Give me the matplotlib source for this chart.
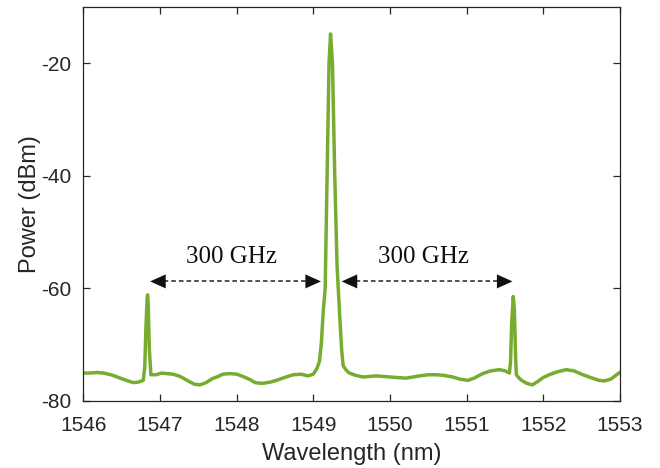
import matplotlib
matplotlib.use('Agg')
from matplotlib import pyplot as plt

plt.rcParams['axes.unicode_minus'] = False

# spectrum (nm, dBm)
wavelength = [1546.00, 1546.08, 1546.18, 1546.26, 1546.36, 1546.48, 1546.58, 1546.65, 1546.72,
              1546.78, 1546.80, 1546.815, 1546.83, 1546.837, 1546.845, 1546.86, 1546.88, 1546.95,
              1547.02, 1547.085, 1547.17, 1547.26, 1547.38, 1547.45, 1547.52, 1547.60, 1547.68,
              1547.74, 1547.82, 1547.91, 1548.00, 1548.08, 1548.18, 1548.24, 1548.30, 1548.36,
              1548.44, 1548.52, 1548.62, 1548.74, 1548.84, 1548.93, 1549.00, 1549.05, 1549.08,
              1549.105, 1549.13, 1549.155, 1549.18, 1549.205, 1549.225, 1549.25, 1549.28,
              1549.31, 1549.345, 1549.37, 1549.39, 1549.43, 1549.47, 1549.55, 1549.65, 1549.74,
              1549.82, 1549.91, 1550.00, 1550.10, 1550.21, 1550.30, 1550.39, 1550.50, 1550.60,
              1550.70, 1550.82, 1550.92, 1551.02, 1551.10, 1551.21, 1551.32, 1551.43, 1551.50,
              1551.56, 1551.575, 1551.59, 1551.61, 1551.625, 1551.64, 1551.65, 1551.68, 1551.71,
              1551.78, 1551.86, 1551.93, 1552.00, 1552.08, 1552.18, 1552.30, 1552.40, 1552.52,
              1552.62, 1552.73, 1552.80, 1552.88, 1552.94, 1553.00]
power = [-75.1, -75.1, -75.0, -75.1, -75.4, -76.0, -76.5, -76.8, -76.7,
         -76.4, -74.0, -67.0, -62.0, -61.2, -63.0, -71.0, -75.4, -75.4,
         -75.1, -75.2, -75.3, -75.7, -76.6, -77.1, -77.2, -76.8, -76.1,
         -75.8, -75.3, -75.2, -75.3, -75.7, -76.3, -76.8, -76.9, -76.9,
         -76.7, -76.4, -75.9, -75.4, -75.3, -75.6, -75.3, -74.2, -73.0,
         -69.8, -64.0, -60.0, -40.0, -20.0, -14.8, -20.0, -40.0,
         -56.0, -65.0, -71.0, -73.8, -74.6, -75.1, -75.5, -75.8, -75.7,
         -75.6, -75.7, -75.8, -75.9, -76.0, -75.8, -75.6, -75.4, -75.4,
         -75.5, -75.8, -76.2, -76.4, -76.0, -75.2, -74.7, -74.5, -74.7,
         -75.1, -73.0, -66.0, -61.5, -64.0, -72.0, -75.4, -75.9, -76.3,
         -76.9, -77.2, -76.6, -75.9, -75.4, -74.9, -74.5, -74.7, -75.4,
         -75.9, -76.4, -76.5, -76.2, -75.6, -75.0]

ytick_values = [-80, -60, -40, -20]
spacing_label = '300 GHz'
left_arrow = (1546.87, 1549.10)
right_arrow = (1549.37, 1551.60)
arrow_level = -58.8

ink = '#262626'
green = '#77AC30'

fig = plt.figure(figsize=(6.6, 4.68), dpi=100)
ax = fig.add_axes([0.1265, 0.144, 0.8125, 0.841])

ax.plot(wavelength, power, color=green, lw=2.5, solid_joinstyle='round')

ax.set_xlim(1546, 1553)
ax.set_ylim(-80, -10)
ax.set_xticks(range(1546, 1554))
ax.set_yticks(ytick_values)

for spine in ax.spines.values():
    spine.set_color(ink)
    spine.set_linewidth(0.9)
ax.tick_params(direction='in', top=True, right=True, length=5, width=0.9,
               colors=ink, labelsize=15)
ax.tick_params(axis='x', pad=11)
ax.tick_params(axis='y', pad=9)
for lab in ax.get_xticklabels() + ax.get_yticklabels():
    lab.set_family('Liberation Sans')

ax.set_xlabel('Wavelength (nm)', fontsize=17, family='Liberation Sans', color=ink, labelpad=6)
ax.set_ylabel('Power (dBm)', fontsize=17, family='Liberation Sans', color=ink, labelpad=0)

# double headed dashed arrows: dashed shaft + solid heads
for x0, x1 in [left_arrow, right_arrow]:
    ax.plot([x0 + 0.08, x1 - 0.08], [arrow_level, arrow_level], color='#222222',
            lw=1.1, linestyle=(0, (3, 2)))
    for tip, tail in [(x0, x0 + 0.2), (x1, x1 - 0.2)]:
        ax.annotate('', xy=(tip, arrow_level), xytext=(tail, arrow_level),
                    arrowprops=dict(arrowstyle='-|>,head_length=0.8,head_width=0.36',
                                    color='#111111', lw=0.01,
                                    shrinkA=0, shrinkB=0, mutation_scale=14))
    ax.text((x0 + x1) / 2 - 0.05, -54.4, spacing_label, ha='center', va='center',
            fontsize=18, family='Liberation Serif', color='#111111')

fig.savefig('out.png', dpi=100)
